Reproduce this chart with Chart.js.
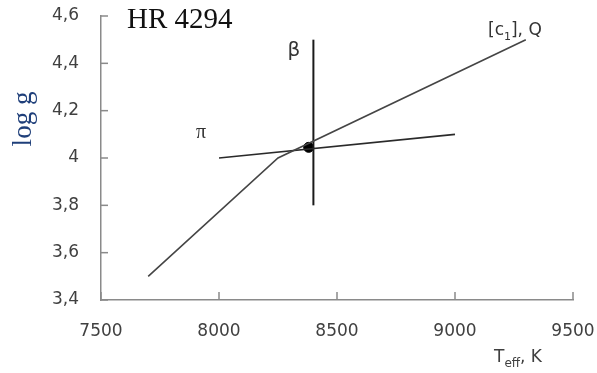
<!DOCTYPE html>
<html>
<head>
<meta charset="utf-8">
<script src="https://cdn.jsdelivr.net/npm/chart.js@4"></script>
<style>
  html, body { margin: 0; padding: 0; background: #fff; }
  #wrap { width: 597px; height: 373px; position: relative; }
</style>
</head>
<body>
<div id="wrap"><canvas id="grafica"></canvas></div>
<script>
// datos
const xTicks = [7500, 8000, 8500, 9000, 9500];
const yTicks = [3.4, 3.6, 3.8, 4.0, 4.2, 4.4, 4.6];

const c1Teff = [7700, 8250, 9300];   // [c1], Q
const c1Logg = [3.5, 4.0, 4.5];
const piTeff = [8000, 9000];         // π
const piLogg = [4.0, 4.1];
const betaTeff = [8400, 8400];       // β
const betaLogg = [3.8, 4.5];
const solTeff = [8380];              // solución
const solLogg = [4.045];

const toPts = (xs, ys) => xs.map((x, i) => ({ x: x, y: ys[i] }));
const fmt = v => Number(v.toFixed(1)).toString().replace('.', ',');

// ticks hacia dentro + textos
const extras = {
  id: 'extras',
  afterDraw(chart) {
    const { ctx, scales: { x, y }, chartArea: a } = chart;
    ctx.save();
    ctx.strokeStyle = '#8a8a8a';
    ctx.lineWidth = 1.5;
    yTicks.forEach(v => {
      const py = y.getPixelForValue(v);
      ctx.beginPath(); ctx.moveTo(a.left, py); ctx.lineTo(a.left + 7, py); ctx.stroke();
    });
    xTicks.forEach(v => {
      const px = x.getPixelForValue(v);
      ctx.beginPath(); ctx.moveTo(px, a.bottom); ctx.lineTo(px, a.bottom - 8); ctx.stroke();
    });

    ctx.textBaseline = 'middle';
    // título
    ctx.fillStyle = '#111';
    ctx.font = '29px "Liberation Serif", serif';
    ctx.textAlign = 'left';
    ctx.fillText('HR 4294', 127, 20);

    // etiquetas de líneas
    ctx.fillStyle = '#333';
    ctx.font = '20px "DejaVu Sans", sans-serif';
    ctx.textAlign = 'center';
    ctx.fillText('β', 294, 51);
    ctx.font = '20px "Liberation Serif", serif';
    ctx.fillText('π', 201, 133);

    ctx.font = '17px "DejaVu Sans", sans-serif';
    ctx.textAlign = 'left';
    let cx = 488;
    ctx.fillText('[c', cx, 31);
    cx += ctx.measureText('[c').width;
    ctx.font = '11px "DejaVu Sans", sans-serif';
    ctx.fillText('1', cx, 37);
    cx += ctx.measureText('1').width;
    ctx.font = '17px "DejaVu Sans", sans-serif';
    ctx.fillText('], Q', cx, 31);

    // título eje x
    ctx.fillStyle = '#404040';
    let tx = 494;
    ctx.fillText('T', tx, 358);
    tx += ctx.measureText('T').width;
    ctx.font = '12px "DejaVu Sans", sans-serif';
    ctx.fillText('eff', tx, 364);
    tx += ctx.measureText('eff').width;
    ctx.font = '17px "DejaVu Sans", sans-serif';
    ctx.fillText(', K', tx, 358);

    // título eje y
    ctx.save();
    ctx.translate(24, 119);
    ctx.rotate(-Math.PI / 2);
    ctx.fillStyle = '#1f3f7a';
    ctx.font = '27px "Liberation Serif", serif';
    ctx.textAlign = 'center';
    ctx.fillText('log g', 0, 0);
    ctx.restore();
    ctx.restore();
  }
};

const lineStyle = { showLine: true, pointRadius: 0, fill: false, tension: 0 };
const noPad = s => { s.paddingLeft = 0; s.paddingRight = 0; s.paddingTop = 0; s.paddingBottom = 0; };

new Chart(document.getElementById('grafica').getContext('2d'), {
  type: 'scatter',
  data: {
    datasets: [
      { ...lineStyle, label: '[c1], Q', data: toPts(c1Teff, c1Logg), borderColor: '#454545', borderWidth: 1.6 },
      { ...lineStyle, label: 'π', data: toPts(piTeff, piLogg), borderColor: '#2a2a2a', borderWidth: 1.6 },
      { ...lineStyle, label: 'β', data: toPts(betaTeff, betaLogg), borderColor: '#1a1a1a', borderWidth: 2 },
      { label: 'sol', data: toPts(solTeff, solLogg), pointRadius: 5, backgroundColor: '#000', borderColor: '#000', showLine: false }
    ]
  },
  options: {
    responsive: true,
    maintainAspectRatio: false,
    animation: false,
    layout: { padding: { left: 0, top: 16, right: 24, bottom: 0 } },
    plugins: { legend: { display: false }, tooltip: { enabled: false } },
    scales: {
      x: {
        type: 'linear', min: 7500, max: 9500,
        afterFit: s => { s.height = 73; noPad(s); },
        afterBuildTicks: s => { s.ticks = xTicks.map(v => ({ value: v })); },
        grid: { drawOnChartArea: false, drawTicks: false },
        border: { color: '#8a8a8a', width: 1.5 },
        ticks: { color: '#404040', font: { family: 'DejaVu Sans', size: 17 }, padding: 21, maxRotation: 0, callback: v => String(v) }
      },
      y: {
        type: 'linear', min: 3.4, max: 4.6,
        afterFit: s => { s.width = 101; noPad(s); },
        afterBuildTicks: s => { s.ticks = yTicks.map(v => ({ value: v })); },
        grid: { drawOnChartArea: false, drawTicks: false },
        border: { color: '#8a8a8a', width: 1.5 },
        ticks: { color: '#404040', font: { family: 'DejaVu Sans', size: 17 }, padding: 22, callback: v => fmt(v) }
      }
    }
  },
  plugins: [extras]
});
</script>
</body>
</html>
